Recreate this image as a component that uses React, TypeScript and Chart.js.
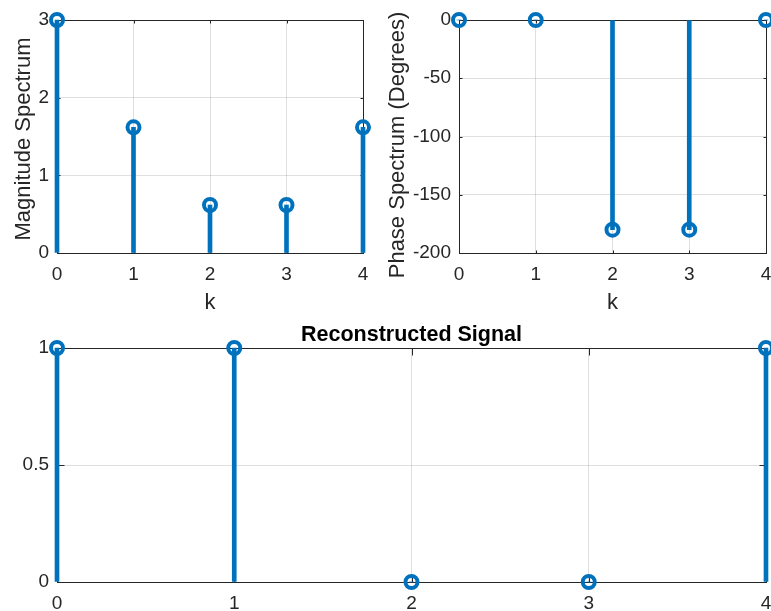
import React, { useEffect, useRef } from "react";
import { Chart, registerables } from "chart.js";

Chart.register(...registerables);

// ---- data ----
const kValues = [0, 1, 2, 3, 4];
const magnitude = [3, 1.618, 0.618, 0.618, 1.618];
const phaseDeg = [0, 0, -180, -180, 0];
const nValues = [0, 1, 2, 3, 4];
const reconstructed = [1, 1, 0, 0, 1];

const kTicks = [0, 1, 2, 3, 4];
const magTicks = [0, 1, 2, 3];
const phaseTicks = [-200, -150, -100, -50, 0];
const recTicks = [0, 0.5, 1];

// ---- style ----
const STEM = "#0072BD";
const AXIS = "#262626";
const GRID = "rgba(38,38,38,0.15)";
const FONT = '"Liberation Sans", Arial, Helvetica, sans-serif';
const TICK_SIZE = 19;
const LABEL_SIZE = 22;
const TITLE_SIZE = 21.5;

const boxPlugin = {
  id: "matlabBox",
  beforeDatasetsDraw(chart: any, _args: any, opts: any) {
    const { ctx, chartArea: a, scales } = chart;
    const len = opts.tickLen || 3;
    ctx.save();
    ctx.strokeStyle = AXIS;
    ctx.lineWidth = 1;
    ctx.beginPath();
    const L = Math.round(a.left) + 0.5;
    const R = Math.round(a.right) + 0.5;
    const T = Math.round(a.top) + 0.5;
    const B = Math.round(a.bottom) + 0.5;
    scales.x.ticks.forEach((t: any) => {
      const px = Math.round(scales.x.getPixelForValue(t.value)) + 0.5;
      ctx.moveTo(px, B);
      ctx.lineTo(px, B - len);
      ctx.moveTo(px, T);
      ctx.lineTo(px, T + len);
    });
    scales.y.ticks.forEach((t: any) => {
      const py = Math.round(scales.y.getPixelForValue(t.value)) + 0.5;
      ctx.moveTo(L, py);
      ctx.lineTo(L + len, py);
      ctx.moveTo(R, py);
      ctx.lineTo(R - len, py);
    });
    ctx.stroke();
    ctx.strokeRect(L, T, R - L, B - T);

    // vertical axis label (MATLAB-style placement)
    if (opts.yTitle) {
      ctx.fillStyle = AXIS;
      ctx.font = `${LABEL_SIZE}px ${FONT}`;
      ctx.textAlign = "center";
      ctx.textBaseline = "middle";
      ctx.translate(opts.yTitleX, (a.top + a.bottom) / 2 + (opts.yTitleDy || 0));
      ctx.rotate(-Math.PI / 2);
      ctx.fillText(opts.yTitle, 0, 0);
    }
    ctx.restore();
  },
};

type PanelCfg = {
  left: number;
  top: number;
  width: number;
  height: number;
  pad: { left: number; right: number; top: number; bottom: number };
  yWidth: number;
  xHeight: number;
  xs: number[];
  ys: number[];
  xTicks: number[];
  yTicks: number[];
  xMin: number;
  xMax: number;
  yMin: number;
  yMax: number;
  xTitle?: string;
  yTitle?: string;
  yTitleX?: number;
  yTitleDy?: number;
  title?: string;
  xTitlePad?: number;
  tickLen: number;
};

function buildConfig(cfg: PanelCfg): any {
  const pts = cfg.xs.map((x, i) => ({ x, y: cfg.ys[i] }));
  return {
    type: "bar",
    data: {
      datasets: [
        {
          type: "scatter",
          data: pts,
          showLine: false,
          pointRadius: 6,
          pointHoverRadius: 6,
          pointBorderWidth: 4,
          pointBorderColor: STEM,
          pointBackgroundColor: "rgba(0,0,0,0)",
          clip: false,
        },
        {
          type: "bar",
          data: pts,
          backgroundColor: STEM,
          borderWidth: 0,
          barThickness: 4,
          clip: false,
        },
      ],
    },
    options: {
      responsive: false,
      animation: false,
      events: [],
      layout: { padding: cfg.pad, autoPadding: false },
      plugins: {
        legend: { display: false },
        tooltip: { enabled: false },
        title: cfg.title
          ? {
              display: true,
              fullSize: false,
              text: cfg.title,
              color: "#000",
              font: { family: FONT, size: TITLE_SIZE, weight: "bold" },
              padding: { top: 12, bottom: 0.2 },
            }
          : { display: false },
        matlabBox: {
          tickLen: cfg.tickLen,
          yTitle: cfg.yTitle,
          yTitleX: cfg.yTitleX,
          yTitleDy: cfg.yTitleDy,
        },
      },
      scales: {
        x: {
          type: "linear",
          min: cfg.xMin,
          max: cfg.xMax,
          offset: false,
          grid: { offset: false, color: GRID, drawTicks: false },
          border: { display: false },
          ticks: {
            color: AXIS,
            font: { family: FONT, size: TICK_SIZE },
            padding: 10,
            maxRotation: 0,
            autoSkip: false,
            callback: (v: any) => String(v),
          },
          title: cfg.xTitle
            ? {
                display: true,
                text: cfg.xTitle,
                color: AXIS,
                font: { family: FONT, size: LABEL_SIZE },
                padding: { top: 0, bottom: cfg.xTitlePad ?? 4 },
              }
            : { display: false },
          afterBuildTicks: (s: any) => {
            s.ticks = cfg.xTicks.map((v) => ({ value: v }));
          },
          afterFit: (s: any) => {
            s.height = cfg.xHeight;
            s.paddingLeft = 0;
            s.paddingRight = 0;
          },
        },
        y: {
          type: "linear",
          min: cfg.yMin,
          max: cfg.yMax,
          grid: { color: GRID, drawTicks: false },
          border: { display: false },
          ticks: {
            color: AXIS,
            font: { family: FONT, size: TICK_SIZE },
            padding: 8,
            callback: (v: any) => String(v),
          },
          title: { display: false },
          afterBuildTicks: (s: any) => {
            s.ticks = cfg.yTicks.map((v) => ({ value: v }));
          },
          afterFit: (s: any) => {
            s.width = cfg.yWidth;
            s.paddingTop = 0;
            s.paddingBottom = 0;
          },
        },
      },
    },
    plugins: [boxPlugin],
  };
}

function Panel({ cfg }: { cfg: PanelCfg }) {
  const ref = useRef<HTMLCanvasElement | null>(null);
  useEffect(() => {
    if (!ref.current) return;
    const chart = new Chart(ref.current, buildConfig(cfg));
    return () => chart.destroy();
  }, []);
  return (
    <canvas
      ref={ref}
      width={cfg.width}
      height={cfg.height}
      style={{
        position: "absolute",
        left: cfg.left,
        top: cfg.top,
        width: cfg.width,
        height: cfg.height,
      }}
    />
  );
}

const panels: PanelCfg[] = [
  {
    left: 0,
    top: 0,
    width: 378,
    height: 320,
    pad: { left: 0, right: 15, top: 20, bottom: 0 },
    yWidth: 57,
    xHeight: 67,
    xs: kValues,
    ys: magnitude,
    xTicks: kTicks,
    yTicks: magTicks,
    xMin: 0,
    xMax: 4,
    yMin: 0,
    yMax: 3,
    xTitle: "k",
    yTitle: "Magnitude Spectrum",
    yTitleX: 23.5,
    yTitleDy: 2.5,
    xTitlePad: 4,
    tickLen: 3,
  },
  {
    left: 378,
    top: 0,
    width: 393,
    height: 320,
    pad: { left: 0, right: 5, top: 20, bottom: 0 },
    yWidth: 81,
    xHeight: 67,
    xs: kValues,
    ys: phaseDeg,
    xTicks: kTicks,
    yTicks: phaseTicks,
    xMin: 0,
    xMax: 4,
    yMin: -200,
    yMax: 0,
    xTitle: "k",
    yTitle: "Phase Spectrum (Degrees)",
    yTitleX: 20,
    yTitleDy: 8.5,
    xTitlePad: 4,
    tickLen: 3,
  },
  {
    left: 0,
    top: 310,
    width: 771,
    height: 301,
    pad: { left: 0, right: 5, top: 0, bottom: 0 },
    yWidth: 57,
    xHeight: 29,
    xs: nValues,
    ys: reconstructed,
    xTicks: kTicks,
    yTicks: recTicks,
    xMin: 0,
    xMax: 4,
    yMin: 0,
    yMax: 1,
    title: "Reconstructed Signal",
    tickLen: 7,
  },
];

export default function App() {
  return (
    <div
      style={{
        position: "absolute",
        left: 0,
        top: 0,
        width: 771,
        height: 611,
        background: "#fff",
        overflow: "hidden",
      }}
    >
      {panels.map((p, i) => (
        <Panel key={i} cfg={p} />
      ))}
    </div>
  );
}
